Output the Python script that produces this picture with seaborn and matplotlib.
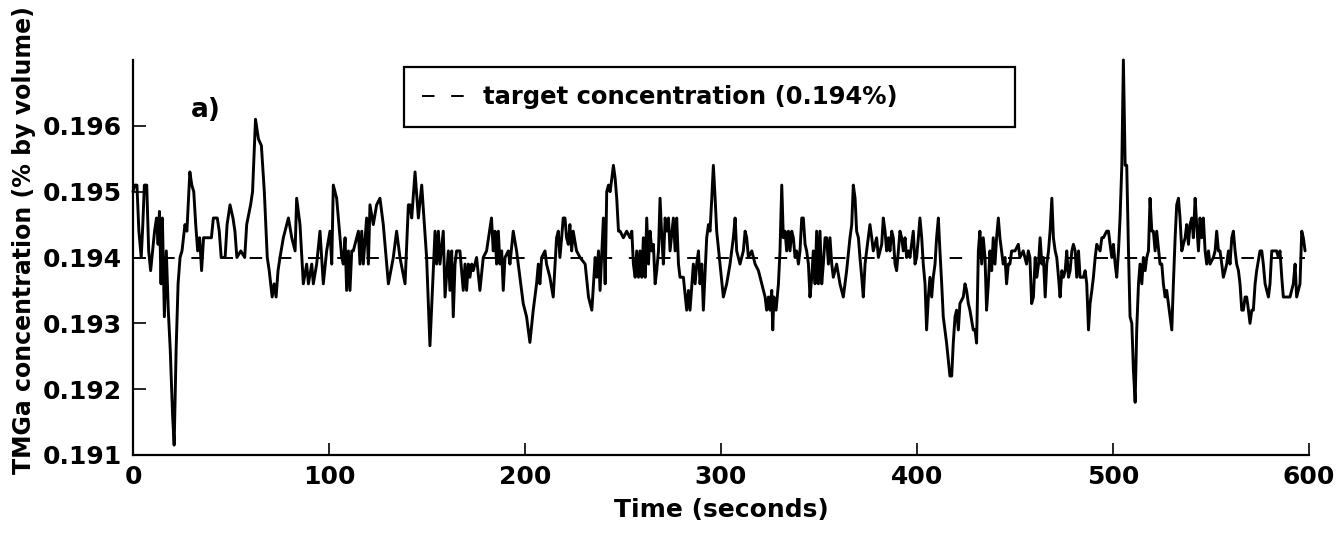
import matplotlib
matplotlib.use("Agg")
import matplotlib.pyplot as plt
import pandas as pd
import seaborn as sns

# trace, (seconds, % by volume)
TIME = [
    0.0, 0.8, 2.0, 3.0, 4.2, 5.0, 5.8, 7.0, 8.0, 9.0, 10.0, 11.0, 12.0, 12.8, 13.5, 14.3, 15.0, 16.0, 17.0, 18.0,
    19.0, 20.2, 21.0, 22.0, 23.0, 24.0, 25.0, 26.5, 27.5, 29.0, 30.0, 31.0, 32.0, 33.0, 34.0, 35.0, 36.0, 38.0,
    40.0, 41.0, 43.0, 44.0, 45.0, 47.0, 48.0, 49.5, 51.0, 52.0, 53.0, 55.0, 57.0, 58.0, 60.0, 61.0, 62.5, 64.0,
    65.5, 67.0, 68.5, 69.5, 71.0, 72.0, 73.0, 74.0, 75.0,
    76.7, 79.3, 81.0, 82.7, 83.5, 85.2, 86.9, 88.6, 89.5, 91.2, 92.0, 93.7, 95.4, 97.1, 98.8, 100.5, 101.4, 102.2,
    103.9, 105.6, 106.5, 107.3, 108.2, 109.0, 109.9, 110.7, 111.6, 112.4, 114.1, 115.0, 115.8, 116.7, 117.5,
    119.2, 120.1, 120.9, 122.6, 124.3, 126.0, 127.7, 130.3, 132.8, 134.5, 136.2, 138.8, 140.5, 141.3, 142.2,
    143.9, 145.6, 147.3, 149.8, 151.5, 153.2,
    154.1, 154.9, 155.8, 156.6, 158.3, 159.2, 160.9, 161.7, 162.6, 163.4, 164.3, 165.1, 166.8, 168.5, 169.4,
    170.2, 171.1, 171.9, 172.8, 173.6, 175.3, 177.0, 178.7, 180.4, 182.9, 183.8, 184.7, 185.5, 186.4, 187.2,
    188.1, 188.9, 189.8, 191.5, 192.3, 194.0, 195.7, 197.4, 199.1, 200.8, 202.5, 204.2, 205.9, 206.8, 207.6,
    208.5, 210.2, 211.0, 212.7, 214.4, 216.1, 217.0, 217.8, 218.7, 219.5, 220.4, 221.2, 222.1, 222.9, 223.8,
    224.6, 226.3,
    228.1, 230.7, 232.4, 234.1, 235.8, 236.6, 237.5, 238.3, 240.0, 240.9, 241.7, 242.6, 243.4, 244.3, 245.1,
    246.0, 246.8, 247.7, 248.5, 250.2, 251.9, 253.6, 254.5, 255.3, 256.2, 257.0, 257.9, 258.7, 259.6, 260.4,
    261.3, 262.1, 263.0, 263.8, 264.7, 265.5, 266.4, 267.2, 268.1, 268.9, 269.8, 270.6, 271.5, 272.3, 273.2,
    274.0, 275.7, 276.6, 277.4, 278.3, 279.1, 280.8, 282.5, 283.4, 284.2, 285.9, 286.8, 287.6, 288.5, 289.3,
    290.2, 291.0, 292.7, 293.6, 294.4, 295.3, 296.1, 297.0, 297.8, 299.5, 301.2, 302.9, 304.6, 306.3,
    307.2, 308.0, 309.7, 311.4, 312.3, 313.1, 314.0, 315.7, 317.4, 319.1, 320.8, 322.5, 323.3, 324.2, 325.0,
    325.9, 326.4, 327.0, 328.1, 329.3, 330.1, 331.0, 331.8, 332.7, 333.5, 334.4, 335.2, 336.1, 336.9, 337.8,
    338.6, 339.5, 340.3, 341.2, 342.0, 342.9, 343.7, 344.6, 345.4, 346.3, 347.1, 348.0, 348.8, 349.7, 350.5,
    351.4, 352.2, 353.1, 353.9, 354.8, 355.6, 356.5, 357.3, 359.0, 360.7, 362.4, 364.1, 365.8, 366.7, 367.5,
    368.4, 369.2, 370.1, 370.9, 371.8, 372.6, 373.5, 374.3, 376.0, 376.9, 377.7, 379.4, 380.3, 382.0,
    382.8, 383.7, 384.5, 385.4, 386.2, 387.1, 387.9, 388.8, 389.6, 390.5, 391.3, 392.2, 393.0, 393.9, 394.7,
    395.6, 396.4, 398.1, 399.0, 399.8, 400.7, 401.5, 402.4, 403.2, 404.1, 404.9, 405.8, 406.6, 407.5, 408.3,
    409.2, 410.0, 410.9, 411.7, 412.6, 413.4, 415.1, 416.8, 417.7, 418.5, 419.4, 420.2, 421.1, 421.9, 423.6,
    424.5, 425.3, 426.2, 427.0, 428.7, 429.6, 430.4, 431.3, 432.1, 433.0, 433.8, 434.7, 435.5, 436.4, 437.2,
    438.1, 438.9, 439.8, 440.6, 441.5, 442.3, 444.0, 444.9, 445.7, 446.6, 447.4, 448.3, 450.0, 451.7, 452.5,
    454.2, 455.9, 456.8, 457.6, 458.5,
    459.4, 460.3, 461.1, 462.0, 462.8, 463.7, 464.5, 465.4, 466.2, 467.1, 467.9, 468.8, 469.6, 470.5, 471.3,
    472.2, 473.0, 473.9, 474.7, 475.6, 476.4, 477.3, 478.1, 479.0, 479.8, 480.7, 481.5, 482.4, 483.2, 484.9,
    485.8, 486.6, 487.5, 488.3, 489.2, 490.0, 490.9, 491.7, 493.4, 494.3, 495.1, 496.8, 497.7, 498.5, 499.4,
    500.2, 501.1, 501.9, 502.8, 503.6, 504.5, 505.3, 506.2, 507.0, 507.9, 508.7, 509.6, 510.4, 511.3, 512.1,
    513.0, 513.8, 514.7, 515.5, 516.4, 517.2, 518.1, 518.9, 519.8, 520.6, 521.5, 522.3, 524.0, 524.9, 525.7,
    526.6, 527.4, 529.1, 530.0, 530.8, 531.7, 532.5, 533.4, 534.2, 535.1,
    535.9, 536.8, 537.6, 538.5, 539.3, 540.2, 541.0, 541.9, 542.7, 543.6, 544.4, 545.3, 546.1, 547.0, 547.8,
    548.7, 549.5, 551.2, 552.1, 552.9, 553.8, 554.6, 555.5, 556.3, 557.2, 558.0, 558.9, 559.7, 560.6, 561.4,
    562.3, 563.1, 564.0, 564.8, 565.7, 566.5, 567.4, 568.2, 569.1, 569.9, 570.8, 571.6, 572.5, 573.3, 575.0,
    575.9, 576.7, 577.6, 579.3, 580.1, 581.0, 582.7, 583.5, 584.4, 585.2, 586.1, 586.9, 588.6, 590.3, 592.0,
    592.9, 593.7, 595.4, 596.3, 597.1, 598.0,
]
CONC = [
    0.1950, 0.1951, 0.1951, 0.1944, 0.1940, 0.1945, 0.1951, 0.1951, 0.1941, 0.1938, 0.1941, 0.1944, 0.1946, 0.1942,
    0.1947, 0.1936, 0.1946, 0.1931, 0.1941, 0.1932, 0.1926, 0.1916, 0.19115, 0.1926, 0.1936, 0.1940, 0.1941,
    0.1945, 0.1944, 0.1953, 0.1951, 0.1950, 0.1945, 0.1941, 0.1943, 0.1938, 0.1943, 0.1943, 0.1943, 0.1946,
    0.1946, 0.1944, 0.1940, 0.1940, 0.1945, 0.1948, 0.1946, 0.1944, 0.1940, 0.1941, 0.1940, 0.1945, 0.1948,
    0.1950, 0.1961, 0.1958, 0.1957, 0.1950, 0.1940, 0.1938, 0.1934, 0.1936, 0.1934, 0.1938, 0.1940,
    0.1943, 0.1946, 0.1943, 0.1941, 0.1949, 0.1945, 0.1936, 0.1939, 0.1936, 0.1939, 0.1936, 0.1939, 0.1944,
    0.1936, 0.1941, 0.1944, 0.1939, 0.1951, 0.1949, 0.1943, 0.1940, 0.1939, 0.1943, 0.1935, 0.1941, 0.1935,
    0.1941, 0.1941, 0.1943, 0.1944, 0.1939, 0.1944, 0.1939, 0.1946, 0.1939, 0.1948, 0.1945, 0.1948, 0.1949,
    0.1945, 0.1936, 0.1940, 0.1944, 0.1940, 0.1936, 0.1948, 0.1948, 0.1946, 0.1953, 0.1946, 0.1951, 0.1940,
    0.19266, 0.1938,
    0.1944, 0.1939, 0.1944, 0.1939, 0.1944, 0.1934, 0.1941, 0.1935, 0.1941, 0.1931, 0.1939, 0.1941, 0.1941,
    0.1935, 0.1939, 0.1935, 0.1939, 0.1937, 0.1939, 0.1938, 0.1940, 0.1935, 0.1940, 0.1941, 0.1946, 0.1941,
    0.1944, 0.1939, 0.1944, 0.1939, 0.1941, 0.1935, 0.1940, 0.1941, 0.1939, 0.1944, 0.1941, 0.1937, 0.1933,
    0.1931, 0.19271, 0.1932, 0.1936, 0.1939, 0.1936, 0.1940, 0.1941, 0.1939, 0.1937, 0.1934, 0.1943, 0.1944,
    0.1940, 0.1943, 0.1946, 0.1946, 0.1943, 0.1942, 0.1945, 0.1941, 0.1944, 0.1941,
    0.1940, 0.1939, 0.1934, 0.1932, 0.1940, 0.1937, 0.1941, 0.1935, 0.1946, 0.1936, 0.1950, 0.1951, 0.1950,
    0.1952, 0.1954, 0.1952, 0.1949, 0.1944, 0.1944, 0.1943, 0.1944, 0.1943, 0.1944, 0.1939, 0.1937, 0.1941,
    0.1937, 0.1941, 0.1937, 0.1943, 0.1937, 0.1946, 0.1939, 0.1944, 0.1941, 0.1942, 0.1936, 0.1938, 0.1941,
    0.1949, 0.1943, 0.1939, 0.1946, 0.1944, 0.1946, 0.1941, 0.1946, 0.1941, 0.1946, 0.1939, 0.1937, 0.1937,
    0.1932, 0.1935, 0.1932, 0.1939, 0.1936, 0.1939, 0.1941, 0.1936, 0.1939, 0.1932, 0.1943, 0.1945, 0.1944,
    0.1949, 0.1954, 0.1949, 0.1944, 0.1939, 0.1934, 0.1936, 0.1939, 0.1943,
    0.1946, 0.1941, 0.1939, 0.1941, 0.1944, 0.1943, 0.1940, 0.1941, 0.1939, 0.1938, 0.1936, 0.1934, 0.1932,
    0.1934, 0.1932, 0.1935, 0.1929, 0.1934, 0.1932, 0.1936, 0.1941, 0.1951, 0.1943, 0.1944, 0.1941, 0.1944,
    0.1941, 0.1944, 0.1943, 0.1940, 0.1941, 0.1939, 0.1941, 0.1946, 0.1946, 0.1942, 0.1941, 0.1939, 0.1934,
    0.1937, 0.1941, 0.1936, 0.1944, 0.1936, 0.1944, 0.1936, 0.1939, 0.1943, 0.1943, 0.1939, 0.1943, 0.1939,
    0.1937, 0.1939, 0.1936, 0.1934, 0.1938, 0.1943, 0.1945, 0.1951, 0.1949, 0.1944, 0.1943, 0.1940, 0.1937,
    0.1934, 0.1939, 0.1941, 0.1945, 0.1943, 0.1941, 0.1943, 0.1940, 0.1942,
    0.1946, 0.1944, 0.1941, 0.1943, 0.1941, 0.1944, 0.1943, 0.1939, 0.1938, 0.1941, 0.1944, 0.1943, 0.1941,
    0.1943, 0.1940, 0.1941, 0.1940, 0.1944, 0.1939, 0.1940, 0.1943, 0.1946, 0.1943, 0.1939, 0.1936, 0.1929,
    0.1934, 0.1937, 0.1934, 0.1937, 0.1939, 0.1943, 0.1946, 0.1941, 0.1936, 0.1931, 0.1927, 0.1922, 0.1922,
    0.1927, 0.1931, 0.1932, 0.1929, 0.1933, 0.1934, 0.1936, 0.1935, 0.1933, 0.1932, 0.1929, 0.1929, 0.1927,
    0.1941, 0.1944, 0.1939, 0.1943, 0.1940, 0.1932, 0.1936, 0.1941, 0.1938, 0.1943, 0.1939, 0.1943, 0.1946,
    0.1943, 0.1939, 0.1940, 0.1936, 0.1939, 0.1939, 0.1941, 0.1941, 0.1942, 0.1940, 0.1941, 0.1939, 0.1941,
    0.1940, 0.1933,
    0.1934, 0.1940, 0.1937, 0.1939, 0.1943, 0.1939, 0.1940, 0.1934, 0.1939, 0.1941, 0.1944, 0.1949, 0.1943,
    0.1941, 0.1940, 0.1937, 0.1934, 0.1938, 0.1937, 0.1938, 0.1941, 0.1937, 0.1938, 0.1941, 0.1942, 0.1941,
    0.1937, 0.1941, 0.1937, 0.1937, 0.1938, 0.1936, 0.1929, 0.1933, 0.1935, 0.1937, 0.1940, 0.1942, 0.1941,
    0.1943, 0.1943, 0.1944, 0.1944, 0.1942, 0.1940, 0.1942, 0.1939, 0.1937, 0.1941, 0.1946, 0.1954, 0.1970,
    0.1954, 0.1954, 0.1941, 0.1931, 0.1930, 0.1923, 0.1918, 0.1929, 0.1936, 0.1939, 0.1936, 0.1940, 0.1938,
    0.1940, 0.1941, 0.1949, 0.1944, 0.1944, 0.1941, 0.1944, 0.1939, 0.1939, 0.1936, 0.1934, 0.1935, 0.1931,
    0.1929, 0.1936, 0.1943, 0.1948, 0.1949, 0.1946, 0.1941,
    0.1942, 0.1943, 0.1945, 0.1942, 0.1945, 0.1946, 0.1943, 0.1949, 0.1945, 0.1941, 0.1946, 0.1943, 0.1946,
    0.1941, 0.1939, 0.1941, 0.1939, 0.1940, 0.1941, 0.1944, 0.1941, 0.1941, 0.1939, 0.1937, 0.1938, 0.1939,
    0.1941, 0.1939, 0.1943, 0.1944, 0.1941, 0.1939, 0.1938, 0.1936, 0.1932, 0.1932, 0.1934, 0.1934, 0.1932,
    0.1930, 0.1932, 0.1932, 0.1936, 0.1938, 0.1941, 0.1941, 0.1939, 0.1936, 0.1934, 0.1936, 0.1941, 0.1941,
    0.1941, 0.1940, 0.1941, 0.1937, 0.1934, 0.1934, 0.1934, 0.1936, 0.1939, 0.1934, 0.1936, 0.1944, 0.1943,
    0.1941,
]
TARGET = 0.194
TARGET_LABEL = "target concentration (0.194%)"
PANEL_LABEL = "a)"
PANEL_POS = (37, 0.19624)
X_TICKS = [0, 100, 200, 300, 400, 500, 600]
Y_TICKS = [0.191, 0.192, 0.193, 0.194, 0.195, 0.196]
X_LABEL = "Time (seconds)"
Y_LABEL = "TMGa concentration (% by volume)"


def main() -> None:
    sns.set_theme(style="ticks")
    plt.rcParams["font.family"] = ["DejaVu Sans"]
    plt.rcParams["font.weight"] = "bold"
    plt.rcParams["axes.labelweight"] = "bold"
    plt.rcParams["axes.labelcolor"] = "black"
    plt.rcParams["text.color"] = "black"
    plt.rcParams["lines.scale_dashes"] = False

    fig = plt.figure(figsize=(13.39, 5.33), dpi=100)
    ax = fig.add_axes([133 / 1339, 1 - 455 / 533, 1176 / 1339, 395 / 533])

    df = pd.DataFrame({"time": TIME, "conc": CONC})
    sns.lineplot(data=df, x="time", y="conc", ax=ax, color="black", lw=2.1,
                 estimator=None, sort=False, clip_on=False)
    target_df = pd.DataFrame({"time": [TIME[0], TIME[-1]], "conc": [TARGET, TARGET]})
    (target_line,) = ax.plot(target_df["time"], target_df["conc"], color="black", lw=1.4,
                             linestyle=(0, (9, 12)))

    ax.set_xlim(0, 600)
    ax.set_ylim(0.191, 0.197)
    ax.set_xticks(X_TICKS)
    ax.set_yticks(Y_TICKS)
    ax.set_yticklabels([f"{v:.3f}" for v in Y_TICKS])
    ax.tick_params(direction="in", length=9, width=1.2, labelsize=18, colors="black")
    ax.tick_params(axis="y", pad=8)
    ax.tick_params(axis="x", pad=7)
    sns.despine(ax=ax)
    for side in ["left", "bottom"]:
        ax.spines[side].set_linewidth(1.6)
        ax.spines[side].set_color("black")

    ax.set_xlabel(X_LABEL, fontsize=18, labelpad=7)
    ax.set_ylabel(Y_LABEL, fontsize=17)
    ax.yaxis.set_label_coords(-0.0825, 0.545)

    ax.text(*PANEL_POS, PANEL_LABEL, fontsize=19, ha="center", va="center")

    leg = ax.legend([target_line], [TARGET_LABEL], loc="center left",
                    bbox_to_anchor=(0.2304, 0.830, 0.5196, 0.152), mode="expand",
                    frameon=True, fancybox=False, edgecolor="black", framealpha=1,
                    borderaxespad=0, borderpad=0.75, handlelength=2.0, handletextpad=0.5,
                    fontsize=17.5, labelcolor="black")
    leg.get_frame().set_linewidth(1.6)

    fig.savefig("out.png", dpi=100)
    plt.close(fig)


if __name__ == "__main__":
    main()
